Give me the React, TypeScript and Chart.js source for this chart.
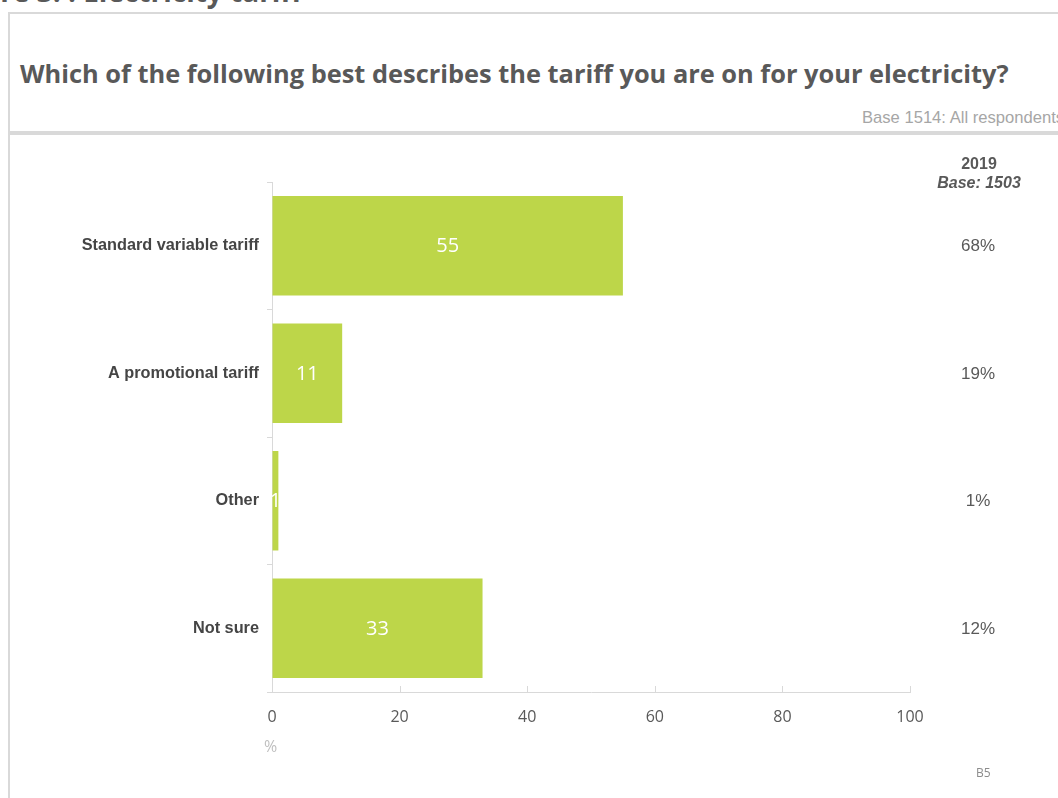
import React, { useEffect, useRef } from "react";
import { Chart, registerables } from "chart.js";

Chart.register(...registerables);

const categories = ["Standard variable tariff", "A promotional tariff", "Other", "Not sure"];
const values2020 = [55, 11, 1, 33];
const values2019 = ["68%", "19%", "1%", "12%"];
const xTicks = [0, 20, 40, 60, 80, 100];

const GRID = "#d9d9d9";
const BAR = "#bdd649";

const overlayPlugin = {
  id: "overlay",
  afterDatasetsDraw(chart: any) {
    const ctx = chart.ctx;
    const meta = chart.getDatasetMeta(0);
    ctx.save();
    // value labels inside bars
    ctx.fillStyle = "#ffffff";
    ctx.font = "20px 'Open Sans'";
    ctx.textAlign = "center";
    ctx.textBaseline = "middle";
    meta.data.forEach((bar: any, i: number) => {
      const cx = (bar.x + bar.base) / 2;
      ctx.fillText(String(values2020[i]), cx, bar.y + 1);
    });
    // 2019 column
    const y = chart.scales.y;
    ctx.fillStyle = "#595959";
    ctx.font = "17px 'Liberation Sans', Arial";
    categories.forEach((_, i) => {
      ctx.fillText(values2019[i], 978, y.getPixelForValue(i) + 1);
    });
    // upward ticks on x axis
    const x = chart.scales.x;
    const bottom = chart.chartArea.bottom;
    ctx.strokeStyle = GRID;
    ctx.lineWidth = 1;
    xTicks.forEach((t) => {
      const px = Math.round(x.getPixelForValue(t)) + 0.5;
      ctx.beginPath();
      ctx.moveTo(px, bottom);
      ctx.lineTo(px, bottom - 6);
      ctx.stroke();
    });
    ctx.restore();
  },
};

function BarChart() {
  const ref = useRef<HTMLCanvasElement>(null);
  useEffect(() => {
    const chart = new Chart(ref.current!, {
      type: "bar",
      data: {
        labels: categories,
        datasets: [
          {
            data: values2020,
            backgroundColor: BAR,
            borderWidth: 0,
            categoryPercentage: 0.78,
            barPercentage: 1,
          },
        ],
      },
      options: {
        indexAxis: "y",
        animation: false,
        responsive: false,
        events: [],
        layout: { padding: { left: 0, top: 182, right: 148, bottom: 0 } },
        plugins: { legend: { display: false }, tooltip: { enabled: false } },
        scales: {
          x: {
            min: 0,
            max: 100,
            afterBuildTicks: (s: any) => {
              s.ticks = xTicks.map((v) => ({ value: v }));
            },
            afterFit: (s: any) => {
              s.height = 106;
            },
            grid: { drawOnChartArea: false, drawTicks: false },
            border: { display: true, color: GRID, width: 1 },
            ticks: {
              color: "#595959",
              font: { family: "'Open Sans'", size: 16 },
              padding: 16,
            },
          },
          y: {
            afterFit: (s: any) => {
              s.width = 272;
            },
            grid: {
              drawOnChartArea: false,
              drawTicks: true,
              tickLength: 5,
              color: GRID,
              offset: true,
            },
            border: { display: true, color: GRID, width: 1 },
            ticks: {
              color: "#454545",
              font: { family: "'Liberation Sans', Arial", size: 16.3, weight: "bold" },
              padding: 8,
            },
          },
        },
      },
      plugins: [overlayPlugin],
    });
    return () => chart.destroy();
  }, []);
  return (
    <canvas
      ref={ref}
      width={1058}
      height={798}
      style={{ position: "absolute", left: 0, top: 0, width: 1058, height: 798 }}
    />
  );
}

export default function App() {
  return (
    <div
      style={{
        position: "fixed",
        left: 0,
        top: 0,
        width: 1058,
        height: 798,
        overflow: "hidden",
        background: "#ffffff",
      }}
    >
      <div
        style={{
          position: "absolute",
          left: -58,
          top: -28,
          font: "bold 28px 'Open Sans'",
          color: "#595959",
          whiteSpace: "nowrap",
        }}
      >
        Figure 3. : Electricity tariff
      </div>
      {/* frame */}
      <div style={{ position: "absolute", left: 8, top: 12, width: 2, height: 800, background: GRID }} />
      <div style={{ position: "absolute", left: 8, top: 12, width: 1060, height: 2, background: GRID }} />
      <div style={{ position: "absolute", left: 8, top: 131, width: 1060, height: 4, background: GRID }} />
      <div
        style={{
          position: "absolute",
          left: 20,
          top: 56,
          font: "bold 25.4px 'Open Sans'",
          color: "#595959",
          whiteSpace: "nowrap",
        }}
      >
        Which of the following best describes the tariff you are on for your electricity?
      </div>
      <div
        style={{
          position: "absolute",
          left: 862,
          top: 108,
          font: "16.6px 'Liberation Sans', Arial",
          color: "#a6a6a6",
          whiteSpace: "nowrap",
        }}
      >
        Base 1514: All respondents
      </div>
      <BarChart />
      <div
        style={{
          position: "absolute",
          left: 929,
          width: 100,
          top: 154,
          textAlign: "center",
          font: "bold 16px 'Liberation Sans', Arial",
          color: "#595959",
          lineHeight: "19px",
        }}
      >
        2019
        <br />
        <i>Base: 1503</i>
      </div>
      <div
        style={{
          position: "absolute",
          left: 264,
          top: 735,
          font: "16px 'Open Sans'",
          color: "#bfbfbf",
        }}
      >
        %
      </div>
      <div
        style={{
          position: "absolute",
          left: 976,
          top: 764,
          font: "12px 'Open Sans'",
          color: "#8c8c8c",
        }}
      >
        B5
      </div>
    </div>
  );
}
